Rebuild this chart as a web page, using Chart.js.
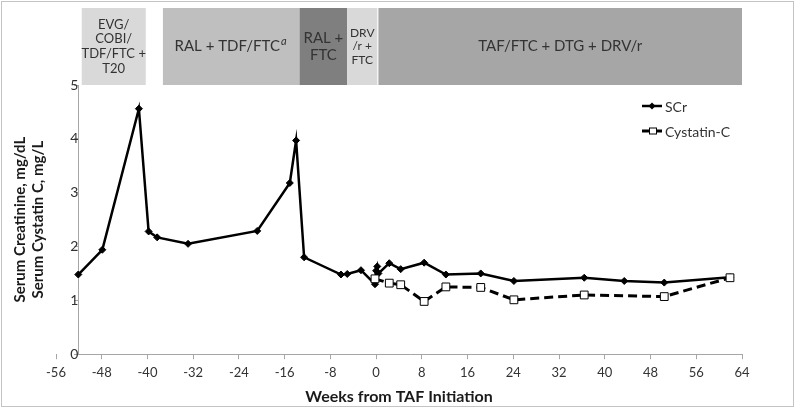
<!DOCTYPE html>
<html>
<head>
<meta charset="utf-8">
<script src="https://cdn.jsdelivr.net/npm/chart.js@4.4.0/dist/chart.umd.min.js"></script>
<style>
html, body { margin: 0; padding: 0; background: #fff; }
#wrap { width: 800px; height: 410px; position: relative; }
</style>
</head>
<body>
<div id="wrap"><canvas id="chart" width="800" height="410"></canvas></div>
<script>
// serum creatinine (mg/dL) by week from TAF initiation
const scrWeeks = [-52.1, -47.9, -41.5, -39.8, -38.3, -32.9, -20.8, -15.1, -14.0, -12.6, -6.15, -5.05, -2.65,
  -0.2, 0.0, 0.2, 0.4, 2.3, 4.3, 8.4, 12.2, 18.3, 24.1, 36.4, 43.4, 50.4, 61.9];
const scrValues = [1.48, 1.94, 4.56, 2.28, 2.17, 2.05, 2.29, 3.18, 3.97, 1.80, 1.48, 1.49, 1.56,
  1.30, 1.55, 1.63, 1.50, 1.69, 1.58, 1.70, 1.48, 1.50, 1.36, 1.42, 1.36, 1.33, 1.43];

// cystatin C (mg/L)
const cysWeeks = [-0.2, 2.3, 4.3, 8.4, 12.2, 18.3, 24.1, 36.4, 50.4, 61.9];
const cysValues = [1.40, 1.32, 1.29, 0.98, 1.25, 1.24, 1.01, 1.10, 1.07, 1.42];

const xTicks = [-56, -48, -40, -32, -24, -16, -8, 0, 8, 16, 24, 32, 40, 48, 56, 64];
const yTicks = [0, 1, 2, 3, 4, 5];
const yAxisCross = -52.1;

// treatment regimens shown above the plot
const regimenStart = [-51.5, -37.3, -13.4, -5.05, 0.4];
const regimenEnd = [-40.3, -13.4, -5.05, 0.2, 64];
const regimenLabels = [
  ['EVG/', 'COBI/', 'TDF/FTC +', 'T20'],
  ['RAL + TDF/FTC'],
  ['RAL +', 'FTC'],
  ['DRV', '/r +', 'FTC'],
  ['TAF/FTC + DTG + DRV/r']
];

const FONT = 'Lato, "Open Sans", sans-serif';
const TEXT = '#333333';
const AXIS = '#a6a6a6';
const bandFill = ['#d9d9d9', '#bfbfbf', '#7f7f7f', '#d9d9d9', '#a6a6a6'];
const bandFont = [13, 15, 15, 12, 15];

const toPoints = (xs, ys) => xs.map((x, i) => ({ x: x, y: ys[i] }));

const decor = {
  id: 'decor',
  beforeDraw(chart) {
    const ctx = chart.ctx;
    ctx.save();
    ctx.fillStyle = '#fff';
    ctx.fillRect(0, 0, chart.width, chart.height);
    ctx.restore();
  },
  afterDraw(chart) {
    const ctx = chart.ctx;
    const xs = chart.scales.x;
    const area = chart.chartArea;
    ctx.save();

    // regimen bands
    const top = 8, bot = area.top;
    regimenStart.forEach((s, i) => {
      const x0 = xs.getPixelForValue(s);
      const x1 = xs.getPixelForValue(regimenEnd[i]);
      ctx.fillStyle = bandFill[i];
      ctx.fillRect(x0, top, x1 - x0, bot - top);
      const lines = regimenLabels[i];
      const fs = bandFont[i];
      const lh = fs * 1.13;
      const cx = (x0 + x1) / 2;
      const cy = (top + bot) / 2;
      ctx.fillStyle = TEXT;
      ctx.font = fs + 'px ' + FONT;
      ctx.textAlign = 'center';
      ctx.textBaseline = 'middle';
      lines.forEach((t, j) => {
        const y = cy + (j - (lines.length - 1) / 2) * lh;
        if (i === 1) {
          const w = ctx.measureText(t).width;
          ctx.textAlign = 'left';
          ctx.fillText(t, cx - w / 2 - 4, y);
          ctx.font = 'italic 11px ' + FONT;
          ctx.fillText('a', cx + w / 2 - 3, y - 5);
          ctx.textAlign = 'center';
          ctx.font = fs + 'px ' + FONT;
        } else {
          ctx.fillText(t, cx, y);
        }
      });
    });

    // x axis line starting at the y axis
    ctx.strokeStyle = AXIS;
    ctx.lineWidth = 1;
    ctx.beginPath();
    ctx.moveTo(xs.getPixelForValue(yAxisCross), Math.round(area.bottom) + 0.5);
    ctx.lineTo(area.right, Math.round(area.bottom) + 0.5);
    ctx.stroke();

    // y axis title
    ctx.fillStyle = '#1a1a1a';
    ctx.font = 'bold 15px ' + FONT;
    ctx.textAlign = 'center';
    ctx.textBaseline = 'middle';
    ctx.translate(29, (area.top + area.bottom) / 2);
    ctx.rotate(-Math.PI / 2);
    ctx.fillText('Serum Creatinine, mg/dL', 0, -9);
    ctx.fillText('Serum Cystatin C, mg/L', 0, 9);
    ctx.setTransform(1, 0, 0, 1, 0, 0);

    // legend
    chart.data.datasets.forEach((ds, i) => {
      const y = 106 + i * 25;
      ctx.strokeStyle = '#000';
      ctx.lineWidth = ds.borderWidth;
      ctx.setLineDash([]);
      ctx.beginPath();
      ctx.moveTo(642, y);
      ctx.lineTo(662, y);
      ctx.stroke();
      ctx.lineWidth = 1;
      if (ds.pointStyle === 'rectRot') {
        ctx.fillStyle = '#000';
        ctx.beginPath();
        ctx.moveTo(652, y - 3.5); ctx.lineTo(655.5, y); ctx.lineTo(652, y + 3.5); ctx.lineTo(648.5, y);
        ctx.closePath();
        ctx.fill();
      } else {
        ctx.fillStyle = '#fff';
        ctx.fillRect(649, y - 3.5, 8, 7);
        ctx.strokeRect(649.5, y - 3, 7, 6);
      }
      ctx.fillStyle = TEXT;
      ctx.font = '14px ' + FONT;
      ctx.textAlign = 'left';
      ctx.fillText(ds.label, 665, y + 1);
    });

    // outer frame
    ctx.strokeStyle = '#c4c4c4';
    ctx.lineWidth = 1;
    ctx.strokeRect(1.5, 1.5, 792, 405);
    ctx.restore();
  }
};

new Chart(document.getElementById('chart'), {
  type: 'line',
  data: {
    datasets: [
      {
        label: 'SCr',
        data: toPoints(scrWeeks, scrValues),
        borderColor: '#000',
        backgroundColor: '#000',
        borderWidth: 2.5,
        pointStyle: 'rectRot',
        pointRadius: 3.5,
        pointBackgroundColor: '#000',
        pointBorderWidth: 1,
        tension: 0,
        order: 1
      },
      {
        label: 'Cystatin-C',
        data: toPoints(cysWeeks, cysValues),
        borderColor: '#000',
        backgroundColor: '#fff',
        borderWidth: 3,
        borderDash: [9, 5],
        pointStyle: 'rect',
        pointRadius: 5.5,
        pointBackgroundColor: '#fff',
        pointBorderColor: '#000',
        pointBorderWidth: 1,
        tension: 0,
        order: 0
      }
    ]
  },
  options: {
    responsive: false,
    animation: false,
    devicePixelRatio: 1,
    layout: { padding: { left: 56, right: 58, top: 85, bottom: 4 } },
    plugins: { legend: { display: false }, tooltip: { enabled: false } },
    scales: {
      x: {
        type: 'linear',
        min: -56,
        max: 64,
        afterBuildTicks: (s) => { s.ticks = xTicks.map(v => ({ value: v })); },
        grid: { drawOnChartArea: false, drawTicks: true, tickLength: 5, color: AXIS },
        border: { display: false },
        ticks: { font: { family: FONT, size: 13 }, color: TEXT, padding: 6, maxRotation: 0 },
        title: {
          display: true,
          text: 'Weeks from TAF Initiation',
          font: { family: FONT, size: 16, weight: 'bold' },
          color: '#1a1a1a',
          padding: { top: 0, bottom: 0 }
        }
      },
      y: {
        type: 'linear',
        min: 0,
        max: 5,
        position: { x: yAxisCross },
        afterBuildTicks: (s) => { s.ticks = yTicks.map(v => ({ value: v })); },
        grid: { drawOnChartArea: false, drawTicks: true, tickLength: 4, color: AXIS },
        border: { display: true, color: AXIS },
        ticks: { font: { family: FONT, size: 14 }, color: TEXT, padding: 4 }
      }
    }
  },
  plugins: [decor]
});
</script>
</body>
</html>
